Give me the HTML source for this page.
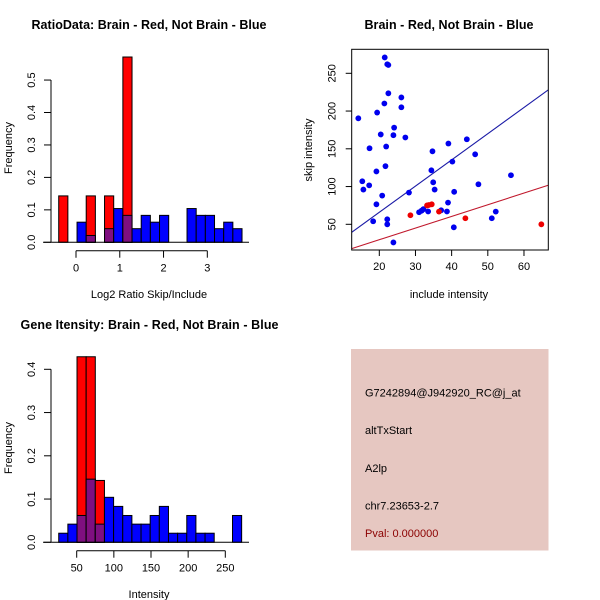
<!DOCTYPE html>
<html><head><meta charset="utf-8"><style>
html,body{margin:0;padding:0;background:#fff;}
svg{display:block;font-family:"Liberation Sans",sans-serif;}
</style></head><body>
<svg id="c" width="600" height="600" viewBox="0 0 600 600">
<rect x="0" y="0" width="600" height="600" fill="#fff"/>
<g id="p1"></g>
<g id="p2"></g>
<g id="p3"></g>
<g id="p4">
<rect x="351" y="349" width="197.5" height="201.5" fill="#e6c7c1"/>
<text x="365" y="396.5" font-size="11" fill="#000">G7242894@J942920_RC@j_at</text>
<text x="365" y="434" font-size="11" fill="#000">altTxStart</text>
<text x="365" y="472" font-size="11" fill="#000">A2lp</text>
<text x="365" y="509.5" font-size="11" fill="#000">chr7.23653-2.7</text>
<text x="365" y="537" font-size="11" fill="#8b0000">Pval: 0.000000</text>
</g>
</svg>
<script>
// ---- Ratio histogram data ----
const ratioBreakStart = -0.395;
const ratioBinWidth = 0.2094;
const ratioBlue = [0,0,0.062,0.021,0,0.042,0.104,0.083,0.042,0.083,0.062,0.083,0,0,0.104,0.083,0.083,0.042,0.062,0.042];
const ratioRed  = [0.143,0,0,0.143,0,0.143,0,0.571,0,0,0,0,0,0,0,0,0,0,0,0];
const ratioXTicks = [0,1,2,3];
const ratioYTicks = ["0.0","0.1","0.2","0.3","0.4","0.5"];
// ---- Intensity histogram data ----
const intBreakStart = 25.8;
const intBinWidth = 12.31;
const intBlue = [0.021,0.042,0.062,0.146,0.042,0.104,0.083,0.062,0.042,0.042,0.062,0.083,0.021,0.021,0.062,0.021,0.021,0,0,0.062];
const intRed  = [0,0,0.429,0.429,0.143,0,0,0,0,0,0,0,0,0,0,0,0,0,0,0];
const intXTicks = [50,100,150,200,250];
const intYTicks = ["0.0","0.1","0.2","0.3","0.4"];
// ---- Scatter data ----
const blueInclude = [14.2,21.5,22.2,22.5,22.5,26.1,26.1,21.4,19.4,24.1,20.4,23.9,27.2,17.3,21.9,21.7,15.3,15.6,17.2,19.2,20.8,19.2,18.3,22.2,22.2,23.9,28.2,31,31.7,32.2,33.5,37.1,38.7,39,40.6,40.7,34.4,34.7,34.9,35.3,39.1,40.2,44.2,46.5,47.4,51.1,52.2,56.4];
const blueSkip    = [190.4,271,262,261,223.5,218,205,210,198,178,169,168,165,150.7,153,127,107,96,101.6,120,88,76.5,54,56.6,50,26,92,66,68,70,67,68.5,67,78.7,46,93,121.5,146.7,105.6,96,157,133,162.6,142.7,103,58,66.8,115];
const redInclude  = [28.6,33.2,33.7,34.5,36.5,43.8,64.8];
const redSkip     = [62,75,75.6,76.5,66.8,58,50];
const fitSlopes     = [3.47,1.544];
const fitIntercepts = [-3.5,-1.27];
const scatterXTicks = [20,30,40,50,60];
const scatterYTicks = [50,100,150,200,250];

const NS="http://www.w3.org/2000/svg";
function mk(parent,tag,attrs){const e=document.createElementNS(NS,tag);for(const k in attrs)e.setAttribute(k,attrs[k]);parent.appendChild(e);return e;}
function txt(parent,x,y,s,size,extra){const e=mk(parent,"text",Object.assign({x:x,y:y,"font-size":size,"text-anchor":"middle",fill:"#000"},extra||{}));e.textContent=s;return e;}

function histogram(g,o){
  const sx=v=>o.x0px+(v-o.x0v)*o.pxPerX;
  const sy=v=>o.y0px-v*o.pxPerY;
  for(let i=0;i<o.blue.length;i++){
    const a=o.start+i*o.width,b=a+o.width;
    const x1=sx(a),x2=sx(b);
    const bv=o.blue[i],rv=o.red[i];
    if(bv>0){const r=mk(g,"rect",{x:x1,y:sy(bv),width:x2-x1,height:sy(0)-sy(bv),fill:"#0000ff",stroke:"#000","stroke-width":1});
      
      }
    if(rv>0){const r=mk(g,"rect",{x:x1,y:sy(rv),width:x2-x1,height:sy(0)-sy(rv),fill:"#ff0000",stroke:"#000","stroke-width":1});
      
      }
    const m=Math.min(bv,rv);
    if(m>0){const r=mk(g,"rect",{x:x1,y:sy(m),width:x2-x1,height:sy(0)-sy(m),fill:"#7f0f80",stroke:"#000","stroke-width":1});
      
      }
  }
  mk(g,"line",{x1:o.baseL,x2:o.baseR,y1:sy(0),y2:sy(0),stroke:"#000","stroke-width":1});
  const yMax=parseFloat(o.yTicks[o.yTicks.length-1]);
  const ya=mk(g,"g",{});
  
  
  mk(ya,"line",{x1:o.yAxisX,x2:o.yAxisX,y1:sy(0),y2:sy(yMax),stroke:"#000"});
  o.yTicks.forEach(t=>{const y=sy(parseFloat(t));
    mk(ya,"line",{x1:o.yAxisX-7,x2:o.yAxisX,y1:y,y2:y,stroke:"#000"});
    const e=txt(ya,0,0,t,11,{transform:`translate(${o.yAxisX-16},${y}) rotate(-90)`});
    
    });
  const xa=mk(g,"g",{});
  
  
  const xt=o.xTicks;
  mk(xa,"line",{x1:sx(xt[0]),x2:sx(xt[xt.length-1]),y1:o.xAxisY,y2:o.xAxisY,stroke:"#000"});
  xt.forEach(t=>{const x=sx(t);
    mk(xa,"line",{x1:x,x2:x,y1:o.xAxisY,y2:o.xAxisY+7,stroke:"#000"});
    const e=txt(xa,x,o.xAxisY+21,String(t),11);
    
    });
}

// Panel 1
const g1=document.getElementById("p1");
histogram(g1,{x0px:76,x0v:0,pxPerX:43.77,y0px:242.3,pxPerY:324.5,start:ratioBreakStart,width:ratioBinWidth,
  blue:ratioBlue,red:ratioRed,xTicks:ratioXTicks,yTicks:ratioYTicks,yAxisX:51,xAxisY:250.7,baseL:43,baseR:249});
let t=txt(g1,149,29,"RatioData: Brain - Red, Not Brain - Blue",12.5,{"font-weight":"bold",textLength:235});


t=txt(g1,149,298,"Log2 Ratio Skip/Include",11);


t=txt(g1,0,0,"Frequency",11,{transform:"translate(12,148) rotate(-90)"});



// Panel 3
const g3=document.getElementById("p3");
histogram(g3,{x0px:76.7,x0v:50,pxPerX:0.743,y0px:542.3,pxPerY:432.5,start:intBreakStart,width:intBinWidth,
  blue:intBlue,red:intRed,xTicks:intXTicks,yTicks:intYTicks,yAxisX:51,xAxisY:550.7,baseL:43,baseR:249});
t=txt(g3,149.5,329,"Gene Itensity: Brain - Red, Not Brain - Blue",12.5,{"font-weight":"bold",textLength:258});


t=txt(g3,149,598,"Intensity",11);


t=txt(g3,0,0,"Frequency",11,{transform:"translate(12,448) rotate(-90)"});



// Panel 2 scatter
const g2=document.getElementById("p2");
const L=351.7,R=548.3,T=49.3,B=250;
const sx=v=>379.3+(v-20)*3.617;
const sy=v=>224.3-(v-50)*0.755;
const cp=mk(g2,"clipPath",{id:"clip2"});mk(cp,"rect",{x:L,y:T,width:R-L,height:B-T});
const lines=mk(g2,"g",{"clip-path":"url(#clip2)"});
const lineColors=["#1a1aa6","#c0182c"];
const lineNames=["blue-fit-line","red-fit-line"];
const xl=12.37,xr=66.7;
fitSlopes.forEach((s,i)=>{const l=mk(lines,"line",{x1:sx(xl),y1:sy(fitIntercepts[i]+s*xl),x2:sx(xr),y2:sy(fitIntercepts[i]+s*xr),stroke:lineColors[i],"stroke-width":1.1});
  
  });
blueInclude.forEach((v,i)=>{const c=mk(g2,"circle",{cx:sx(v),cy:sy(blueSkip[i]),r:2.9,fill:"#0000ee"});
  
  });
redInclude.forEach((v,i)=>{const c=mk(g2,"circle",{cx:sx(v),cy:sy(redSkip[i]),r:2.9,fill:"#ee0000"});
  
  });
mk(g2,"rect",{x:L,y:T,width:R-L,height:B-T,fill:"none",stroke:"#000","stroke-width":1});
const xa2=mk(g2,"g",{});


scatterXTicks.forEach(v=>{const x=sx(v);mk(xa2,"line",{x1:x,x2:x,y1:B,y2:B+6,stroke:"#000"});
  const e=txt(xa2,x,B+20,String(v),11);
  
  });
const ya2=mk(g2,"g",{});


scatterYTicks.forEach(v=>{const y=sy(v);mk(ya2,"line",{x1:L-6,x2:L,y1:y,y2:y,stroke:"#000"});
  const e=txt(ya2,0,0,String(v),11,{transform:`translate(${L-16},${y}) rotate(-90)`});
  
  });
t=txt(g2,449,29,"Brain - Red, Not Brain - Blue",12.5,{"font-weight":"bold",textLength:169});


t=txt(g2,449,298,"include intensity",11);


t=txt(g2,0,0,"skip intensity",11,{transform:"translate(312,150) rotate(-90)"});


</script>
</body></html>
